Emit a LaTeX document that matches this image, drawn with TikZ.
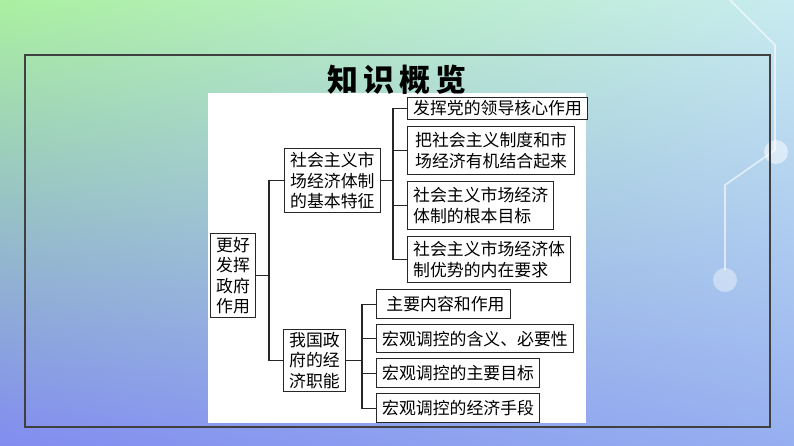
\documentclass[tikz,border=0pt]{standalone}
\usepackage{fontspec}
\setmainfont{Noto Sans CJK SC}
\usetikzlibrary{positioning,shadings}
\definecolor{bgul}{RGB}{170,240,160}
\definecolor{bgur}{RGB}{200,235,240}
\definecolor{bgll}{RGB}{130,140,240}
\definecolor{bglr}{RGB}{150,175,240}
\newcommand{\pxw}[1]{#1*0.025cm}
\tikzset{
  box/.style = {draw=black!85, line width=0.8pt, fill=white, anchor=north west,
                align=left, inner xsep=4pt, inner ysep=1pt, font=\fontsize{12}{14.5}\selectfont},
  link/.style = {line width=0.8pt, black!85},
}
\begin{document}
\begin{tikzpicture}[x=0.025cm, y=-0.025cm]
  % background
  \shade[upper left=bgul, upper right=bgur, lower left=bgll, lower right=bglr]
    (0,0) rectangle (794,446);
  \useasboundingbox (0,0) rectangle (794,446);
  % circuit lines
  \draw[white, opacity=0.6, line width=1.2pt] (730,0) -- (775,45) -- (775,150) -- (725,185) -- (725,270);
  \fill[white, opacity=0.5] (776,152) circle (12);
  \fill[white, opacity=0.4] (725,280) circle (12);
  % frame and panel
  \draw[black!75, line width=0.8pt] (25,55) rectangle (770,427);
  \fill[white] (208,93) rectangle (586,423);
  \node[font=\fontsize{22}{24}\selectfont\bfseries] (title) at (397,80) {知\,识\,概\,览};
  % nodes
  \node[box, minimum width=\pxw{44}, minimum height=\pxw{84}] (root) at (210,233) {更好\\发挥\\政府\\作用};
  \node[box, minimum width=\pxw{95}, minimum height=\pxw{64}] (m1) at (284,148) {社会主义市\\场经济体制\\的基本特征};
  \node[box, minimum width=\pxw{60}, minimum height=\pxw{62}] (m2) at (283,329) {我国政\\府的经\\济职能};
  \node[box, minimum width=\pxw{178}, minimum height=\pxw{22}] (a) at (407,97) {发挥党的领导核心作用};
  \node[box, minimum width=\pxw{167}, minimum height=\pxw{48}] (b) at (407,126) {把社会主义制度和市\\场经济有机结合起来};
  \node[box, minimum width=\pxw{145}, minimum height=\pxw{48}] (c) at (407,181) {社会主义市场经济\\体制的根本目标};
  \node[box, minimum width=\pxw{161}, minimum height=\pxw{46}] (d) at (407,236) {社会主义市场经济体\\制优势的内在要求};
  \node[box, minimum width=\pxw{134}, minimum height=\pxw{29}] (e) at (376,289) {\ 主要内容和作用};
  \node[box, minimum width=\pxw{196}, minimum height=\pxw{28}] (f) at (376,324) {宏观调控的含义、必要性};
  \node[box, minimum width=\pxw{161}, minimum height=\pxw{29}] (g) at (376,358) {宏观调控的主要目标};
  \node[box, minimum width=\pxw{161}, minimum height=\pxw{29}] (h) at (376,393) {宏观调控的经济手段};
  % connectors
  \coordinate (r0) at (269,0);
  \coordinate (s0) at (393,0);
  \coordinate (t0) at (362,0);
  \draw[link] (root.east) -- (root.east -| r0);
  \draw[link] (m1.west) -| (r0 |- m1.west) -- (r0 |- m2.west) -- (m2.west);
  \draw[link] (m1.east) -- (m1.east -| s0);
  \draw[link] (a.west) -| (s0 |- a.west) -- (s0 |- d.west) -- (d.west);
  \foreach \n in {b,c} \draw[link] (\n.west) -- (\n.west -| s0);
  \draw[link] (m2.east) -- (m2.east -| t0);
  \draw[link] (e.west) -| (t0 |- e.west) -- (t0 |- h.west) -- (h.west);
  \foreach \n in {f,g} \draw[link] (\n.west) -- (\n.west -| t0);
\end{tikzpicture}
\end{document}
